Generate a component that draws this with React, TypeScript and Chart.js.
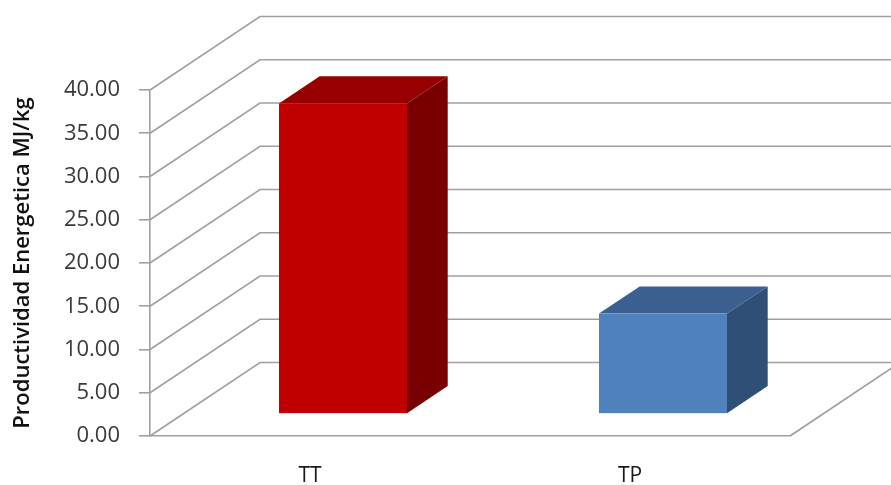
import React, { useEffect, useRef } from "react";
import { Chart, registerables } from "chart.js";

Chart.register(...registerables);

const categories: string[] = ["TT", "TP"];
const productividad: number[] = [35.9, 11.6];
const yMin = 0;
const yMax = 40;
const yStep = 5;
const yTitle = "Productividad Energetica MJ/kg";

const frontColors = ["#C00000", "#4F81BD"];
const topColors = ["#960000", "#3B5F8E"];
const sideColors = ["#780000", "#2F4F76"];
const gridColor = "#A0A0A0";

// 3D geometry (depth vector of the plot box)
const DEPTH_X = 110;
const DEPTH_Y = -73.5;
const BAR_FRONT = 0.3;
const BAR_DEPTH = 0.37;

const wallsPlugin = {
  id: "walls3d",
  beforeDatasetsDraw(chart: any) {
    const { ctx, chartArea, scales } = chart;
    const ys = scales.y;
    ctx.save();
    ctx.strokeStyle = gridColor;
    ctx.lineWidth = 1.6;
    ys.ticks.forEach((t: any) => {
      const py = ys.getPixelForValue(t.value);
      ctx.beginPath();
      ctx.moveTo(chartArea.left, py);
      ctx.lineTo(chartArea.left + DEPTH_X, py + DEPTH_Y);
      ctx.lineTo(chart.width + 20, py + DEPTH_Y);
      ctx.stroke();
    });
    ctx.beginPath();
    ctx.moveTo(chartArea.right, chartArea.bottom);
    ctx.lineTo(chartArea.right + DEPTH_X, chartArea.bottom + DEPTH_Y);
    ctx.stroke();
    ctx.restore();
  },
  afterDatasetsDraw(chart: any) {
    const { ctx } = chart;
    const meta = chart.getDatasetMeta(0);
    const ox = BAR_FRONT * DEPTH_X;
    const oy = BAR_FRONT * DEPTH_Y;
    const bx = BAR_DEPTH * DEPTH_X;
    const by = BAR_DEPTH * DEPTH_Y;
    ctx.save();
    meta.data.forEach((el: any, i: number) => {
      const p = el.getProps(["x", "y", "base", "width"], true);
      const l = p.x - p.width / 2 + ox;
      const r = p.x + p.width / 2 + ox;
      const t = p.y + oy;
      const b = p.base + oy;
      // side
      ctx.fillStyle = sideColors[i];
      ctx.beginPath();
      ctx.moveTo(r, t);
      ctx.lineTo(r + bx, t + by);
      ctx.lineTo(r + bx, b + by);
      ctx.lineTo(r, b);
      ctx.closePath();
      ctx.fill();
      // top
      ctx.fillStyle = topColors[i];
      ctx.beginPath();
      ctx.moveTo(l, t);
      ctx.lineTo(l + bx, t + by);
      ctx.lineTo(r + bx, t + by);
      ctx.lineTo(r, t);
      ctx.closePath();
      ctx.fill();
      // front
      ctx.fillStyle = frontColors[i];
      ctx.fillRect(l, t, r - l, b - t);
    });
    ctx.restore();
  },
};

export default function App() {
  const ref = useRef<HTMLCanvasElement | null>(null);
  useEffect(() => {
    if (!ref.current) return;
    const chart = new Chart(ref.current, {
      type: "bar",
      data: {
        labels: categories,
        datasets: [
          {
            label: "Productividad",
            data: productividad,
            backgroundColor: "rgba(0,0,0,0)",
            borderWidth: 0,
            categoryPercentage: 1,
            barPercentage: 0.4,
          },
        ],
      },
      options: {
        responsive: false,
        animation: false,
        events: [],
        layout: { padding: { top: 90, right: 101, left: 0, bottom: 0 } },
        plugins: { legend: { display: false }, tooltip: { enabled: false } },
        scales: {
          x: {
            grid: { display: false, drawTicks: false },
            border: { display: true, color: gridColor, width: 1.6 },
            ticks: {
              color: "#1a1a1a",
              padding: 27,
              font: { family: "Open Sans", size: 21 },
            },
            afterFit: (s: any) => {
              s.height = 49;
            },
          },
          y: {
            min: yMin,
            max: yMax,
            ticks: {
              stepSize: yStep,
              color: "#3a3a3a",
              padding: 19,
              font: { family: "Open Sans", size: 22 },
              callback: (v: any) => Number(v).toFixed(2),
            },
            grid: {
              drawOnChartArea: false,
              tickLength: 11,
              color: gridColor,
              lineWidth: 1.6,
            },
            border: { display: true, color: gridColor, width: 1.6 },
            title: {
              display: true,
              text: yTitle,
              color: "#111111",
              padding: { top: 10, bottom: 0 },
              font: { family: "Open Sans", size: 22, weight: "600" },
            },
            afterFit: (s: any) => {
              s.width = 150;
            },
          },
        },
      },
      plugins: [wallsPlugin],
    });
    return () => chart.destroy();
  }, []);
  return (
    <div style={{ position: "absolute", left: 0, top: 0, width: 891, height: 485, background: "#ffffff" }}>
      <canvas ref={ref} width={891} height={485} style={{ display: "block" }} />
    </div>
  );
}
